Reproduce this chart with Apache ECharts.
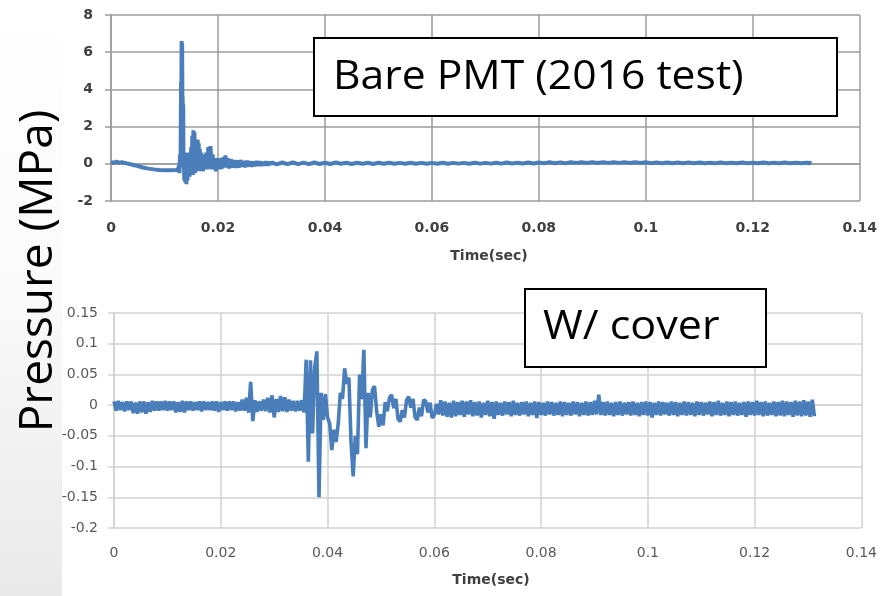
<!DOCTYPE html>
<html><head><meta charset="utf-8">
<script src="https://cdn.jsdelivr.net/npm/echarts@6/dist/echarts.min.js"></script>
<style>html,body{margin:0;padding:0;background:#fff}#c{width:880px;height:596px}</style>
</head><body><div id="c"></div>
<script>
// ---- Axis ticks ----
const timeTicks = [0, 0.02, 0.04, 0.06, 0.08, 0.1, 0.12, 0.14];
const topYTicks = [-2, 0, 2, 4, 6, 8];
const bottomYTicks = [-0.2, -0.15, -0.1, -0.05, 0, 0.05, 0.1, 0.15];

// ---- Top panel: Bare PMT (2016 test), pressure in MPa ----
const topTime = [0,0.0005,0.001,0.0015,0.002,0.003,0.004,0.005,0.006,0.007,0.008,0.009,0.010,0.011,0.012,0.0125,
0.0127,0.0128,0.0129,0.0130,0.0131,0.01315,0.0132,0.01325,0.0133,0.01335,0.0134,0.01345,0.0135,0.01355,
0.0136,0.0137,0.0138,0.0139,0.0140,0.0141,0.0142,0.0143,0.0144,0.0145,0.0146,0.0147,0.0148,0.0149,
0.0150,0.0151,0.0152,0.0153,0.0154,0.0155,0.0156,0.0157,0.0158,0.0159,0.0160,0.0161,0.0162,0.0163,
0.0164,0.0165,0.0166,0.0167,0.0168,0.0169,0.0170,0.0172,0.0174,0.0176,0.0178,0.0180,0.0182,0.0184,
0.0186,0.0188,0.0190,0.0192,0.0194,0.0196,0.0198,0.0200,0.0202,0.0204,0.0206,0.0208,0.0210,0.0212,
0.0214,0.0216,0.0218,0.0221,0.0224,0.0227,0.0230,0.0233,0.0236,0.0239,0.0242,0.0245,0.0248,0.0251,
0.0254,0.0257,0.0260,0.0263,0.0266,0.0269,0.0272,0.0275,0.0278,0.0281,0.0284,0.0287,0.0290,0.0293,
0.0296,0.0299];
const topPressure = [0.10,0.04,0.12,0.05,0.08,0.02,-0.05,-0.12,-0.20,-0.26,-0.30,-0.33,-0.35,-0.35,-0.34,-0.32,
-0.1,-0.5,0.5,-0.2,4.4,3.0,6.6,4.8,6.5,3.2,3.6,0.6,3.2,0.2,
0.6,-0.9,0.5,-1.0,0.6,-1.1,0.5,-0.9,0.6,-0.6,0.5,-0.7,0.4,-0.5,
0.9,-0.4,1.5,-0.6,1.8,-0.3,1.7,-0.5,1.0,-0.4,1.3,-0.3,1.3,-0.4,
1.1,-0.2,0.8,-0.4,0.6,-0.3,0.5,-0.4,0.4,-0.3,0.6,-0.3,0.9,-0.2,
0.95,-0.3,0.5,-0.3,0.3,-0.4,0.3,-0.3,0.2,-0.3,0.3,-0.25,0.35,-0.2,
0.45,-0.2,0.3,-0.25,0.25,-0.2,0.2,-0.22,0.18,-0.2,0.2,-0.15,0.15,-0.18,
0.16,-0.14,0.14,-0.15,0.12,-0.12,0.14,-0.1,0.12,-0.1,0.1,-0.08,0.12,-0.08,
0.1,-0.06];
// uniformly sampled tail, one sample every topTailStep seconds from topTailStart
const topTailStart = 0.030, topTailStep = 0.001;
const topTail = [
0.08,-0.03,0.07,-0.02,0.07,-0.02,0.06,-0.02,0.07,-0.01,
0.06,-0.01,0.07,0.00,0.06,-0.01,0.06,0.00,0.06,-0.01,
0.06,0.00,0.06,0.00,0.05,0.00,0.06,0.00,0.05,0.00,
0.05,0.00,0.06,0.00,0.05,0.01,0.05,0.00,0.06,0.01,
0.05,0.01,0.06,0.01,0.07,0.02,0.06,0.02,0.07,0.02,
0.07,0.03,0.08,0.03,0.07,0.03,0.08,0.04,0.08,0.04,
0.09,0.04,0.09,0.05,0.09,0.05,0.08,0.04,0.08,0.04,
0.08,0.03,0.07,0.03,0.07,0.03,0.07,0.03,0.07,0.03,
0.07,0.03,0.06,0.03,0.07,0.03,0.06,0.03,0.07,0.03,
0.06,0.03,0.07,0.03,0.06,0.03,0.07,0.03,0.06,0.03,
0.06,0.04];

// ---- Bottom panel: W/ cover, pressure in MPa, one sample every bottomStep seconds ----
const bottomStep = 0.0004;
const bottomPressure = [
0.006,-0.009,0.007,-0.008,0.005,-0.010,0.006,-0.008,0.006,-0.013,
0.004,-0.014,0.006,-0.012,0.006,-0.014,0.005,-0.011,0.007,-0.009,
0.006,-0.009,0.006,-0.008,0.007,-0.009,0.006,-0.008,0.006,-0.012,
0.005,-0.011,0.007,-0.012,0.006,-0.008,0.006,-0.009,0.005,-0.008,
0.006,-0.010,0.006,-0.008,0.005,-0.008,0.006,-0.009,0.006,-0.011,
0.005,-0.008,0.006,-0.009,0.006,-0.008,0.006,-0.010,0.005,-0.009,
0.009,-0.009,0.012,-0.012,0.038,-0.026,0.008,-0.011,0.006,-0.009,
0.009,-0.010,0.012,-0.012,0.016,-0.020,0.010,-0.011,0.015,-0.010,
0.013,-0.011,0.009,-0.009,0.007,-0.010,0.007,-0.009,
0.008,-0.012,0.074,-0.092,0.073,-0.046,0.062,0.0875,-0.150,0.020,
-0.024,0.018,-0.020,-0.030,-0.073,-0.040,-0.060,-0.030,0.020,0.010,
0.060,0.035,0.045,-0.060,-0.116,-0.050,-0.080,0.050,0.010,0.090,
-0.070,0.020,-0.020,0.025,0.031,-0.010,-0.035,-0.015,-0.033,0.005,
-0.010,0.012,0.017,-0.005,0.010,-0.022,-0.027,-0.008,-0.020,0.008,
0.014,-0.004,0.010,-0.020,-0.024,-0.004,-0.018,0.009,0.006,-0.012,
0.004,-0.021,-0.016,0.002,-0.015,0.008,-0.017,0.006,-0.019,0.004,
-0.020,0.007,-0.018,
0.005,-0.016,0.007,-0.019,0.006,-0.015,0.008,-0.018,0.005,-0.017,
0.006,-0.020,0.004,-0.016,0.007,-0.018,0.005,-0.022,0.006,-0.016,
0.004,-0.017,0.006,-0.015,0.005,-0.018,0.007,-0.016,0.004,-0.017,
0.005,-0.015,0.006,-0.018,0.004,-0.016,0.006,-0.021,0.005,-0.016,
0.004,-0.017,0.006,-0.015,0.005,-0.017,0.004,-0.016,0.006,-0.018,
0.005,-0.016,0.004,-0.017,0.006,-0.015,0.005,-0.018,0.004,-0.016,
0.006,-0.017,0.005,-0.016,0.007,-0.015,0.017,-0.016,0.005,-0.017,
0.006,-0.016,0.004,-0.018,0.005,-0.016,0.006,-0.017,0.004,-0.015,
0.005,-0.017,0.006,-0.016,0.004,-0.018,0.005,-0.016,0.006,-0.017,
0.005,-0.020,0.004,-0.016,0.006,-0.017,0.005,-0.015,0.004,-0.017,
0.006,-0.016,0.005,-0.018,0.004,-0.016,0.006,-0.017,0.005,-0.016,
0.004,-0.018,0.006,-0.016,0.005,-0.017,0.004,-0.015,0.006,-0.018,
0.005,-0.016,0.007,-0.017,0.004,-0.016,0.006,-0.018,0.005,-0.016,
0.006,-0.017,0.004,-0.016,0.005,-0.019,0.006,-0.016,0.005,-0.017,
0.007,-0.016,0.005,-0.018,0.006,-0.017,0.004,-0.016,0.006,-0.018,
0.005,-0.017,0.007,-0.018,0.006,-0.016,0.005,-0.019,0.007,-0.017,
0.006,-0.018,0.008,-0.017,0.006,-0.019,0.009,-0.018];

const texts = {
  yTitle: 'Pressure (MPa)',
  xTitle: 'Time(sec)',
  topBox: 'Bare PMT (2016 test)',
  bottomBox: 'W/ cover'
};

// ---- build series data ----
const topData = topTime.map((t, i) => [t, topPressure[i]])
  .concat(topTail.map((v, i) => [topTailStart + i * topTailStep, v]));
const bottomData = bottomPressure.map((v, i) => [i * bottomStep, v]);

const fmt = v => String(Math.round(v * 1000) / 1000);
const blue = '#4a7ebb';

function xAxisFor(gi, bold, color, size, gridColor, margin) {
  return {
    gridIndex: gi, type: 'value',
    min: timeTicks[0], max: timeTicks[timeTicks.length - 1], interval: timeTicks[1] - timeTicks[0],
    axisLine: { show: true, lineStyle: { color: gridColor, width: 1.5 } },
    axisTick: { show: false },
    splitLine: { show: true, lineStyle: { color: gridColor, width: 1.5 } },
    axisLabel: { formatter: fmt, color: color, fontSize: size, fontWeight: bold ? 'bold' : 'normal',
      fontFamily: 'DejaVu Sans', margin: margin, showMinLabel: true, showMaxLabel: true }
  };
}
function yAxisFor(gi, ticks, bold, color, size, gridColor, margin) {
  return {
    gridIndex: gi, type: 'value',
    min: ticks[0], max: ticks[ticks.length - 1], interval: ticks[1] - ticks[0],
    axisLine: { show: true, lineStyle: { color: gridColor, width: 1.5 } },
    axisTick: { show: true, length: 6, lineStyle: { color: gridColor, width: 1.5 } },
    splitLine: { show: true, lineStyle: { color: gridColor, width: 1.5 } },
    axisLabel: { formatter: fmt, color: color, fontSize: size, fontWeight: bold ? 'bold' : 'normal',
      fontFamily: 'DejaVu Sans', margin: margin }
  };
}

const chart = echarts.init(document.getElementById('c'), null, { renderer: 'canvas' });
chart.setOption({
  animation: false,
  backgroundColor: '#fff',
  grid: [
    { left: 111, top: 15, width: 756, height: 186 },
    { left: 114, top: 313, width: 754, height: 215 }
  ],
  xAxis: [
    xAxisFor(0, true, '#404040', 14, '#9c9c9c', 20),
    xAxisFor(1, false, '#595959', 14, '#d2d2d2', 18)
  ],
  yAxis: [
    yAxisFor(0, topYTicks, true, '#404040', 14, '#9c9c9c', 18),
    yAxisFor(1, bottomYTicks, false, '#595959', 14, '#d2d2d2', 16)
  ],
  series: [
    { type: 'line', xAxisIndex: 0, yAxisIndex: 0, data: topData, showSymbol: false, symbol: 'none',
      lineStyle: { color: blue, width: 4 }, sampling: null, z: 3 },
    { type: 'line', xAxisIndex: 1, yAxisIndex: 1, data: bottomData, showSymbol: false, symbol: 'none',
      lineStyle: { color: blue, width: 3.6 }, sampling: null, z: 3 }
  ],
  graphic: [
    { type: 'rect', z: -10, silent: true, shape: { x: 0, y: 0, width: 62, height: 596 },
      style: { fill: new echarts.graphic.LinearGradient(0, 0, 0, 1, [
        { offset: 0, color: '#ffffff' }, { offset: 0.5, color: '#fafafa' }, { offset: 1, color: '#e9e9e9' }]) } },
    { type: 'text', z: 50, x: 39, y: 271, rotation: Math.PI / 2,
      style: { text: texts.yTitle, x: 0, y: 0, fontSize: 46, fontFamily: 'Open Sans', fill: '#000',
        textAlign: 'center', textVerticalAlign: 'middle' } },
    { type: 'text', z: 50, x: 489, y: 256,
      style: { text: texts.xTitle, fontSize: 14, fontWeight: 'bold', fontFamily: 'DejaVu Sans', fill: '#404040',
        textAlign: 'center', textVerticalAlign: 'middle' } },
    { type: 'text', z: 50, x: 491, y: 580,
      style: { text: texts.xTitle, fontSize: 14, fontWeight: 'bold', fontFamily: 'DejaVu Sans', fill: '#404040',
        textAlign: 'center', textVerticalAlign: 'middle' } },
    { type: 'rect', z: 100, shape: { x: 314, y: 38, width: 523, height: 78 },
      style: { fill: '#fff', stroke: '#000', lineWidth: 2 } },
    { type: 'text', z: 101, x: 333, y: 77, scaleX: 1.04,
      style: { text: texts.topBox, fontSize: 41, fontFamily: 'Open Sans', fill: '#000',
        textAlign: 'left', textVerticalAlign: 'middle' } },
    { type: 'rect', z: 100, shape: { x: 525, y: 289, width: 241, height: 78 },
      style: { fill: '#fff', stroke: '#000', lineWidth: 2 } },
    { type: 'text', z: 101, x: 543, y: 327, scaleX: 1.05,
      style: { text: texts.bottomBox, fontSize: 41, fontFamily: 'Open Sans', fill: '#000',
        textAlign: 'left', textVerticalAlign: 'middle' } }
  ]
});
</script></body></html>
